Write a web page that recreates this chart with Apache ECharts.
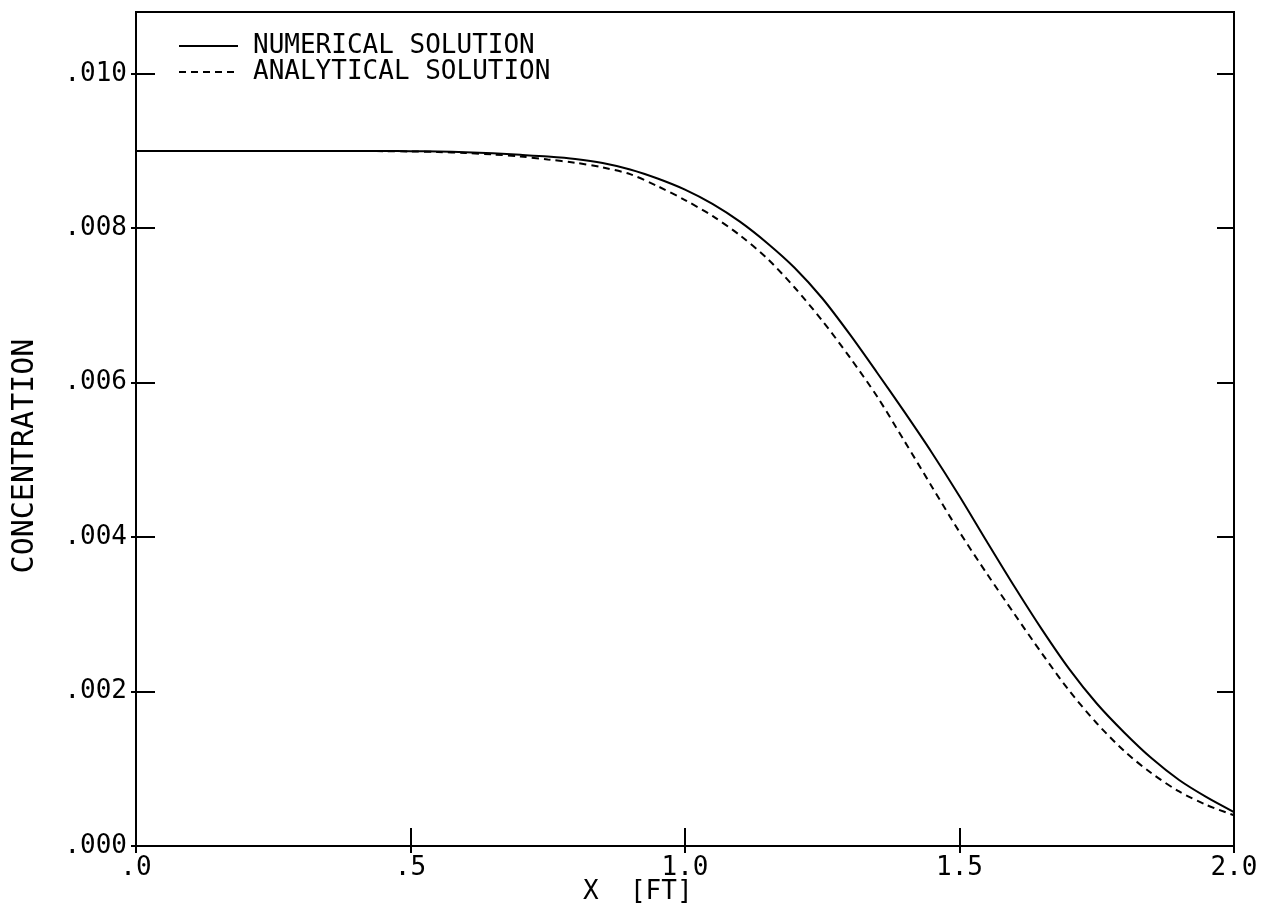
<!DOCTYPE html>
<html>
<head>
<meta charset="utf-8">
<script src="https://cdn.jsdelivr.net/npm/echarts@6/dist/echarts.min.js"></script>
<style>
  html, body { margin: 0; padding: 0; background: #fff; }
  #chart { width: 1264px; height: 909px; }
</style>
</head>
<body>
<div id="chart"></div>
<script>
// Distance along the column, ft
const xFeet = [
  0.00, 0.05, 0.10, 0.15, 0.20, 0.25, 0.30, 0.35, 0.40, 0.45,
  0.50, 0.55, 0.60, 0.65, 0.70, 0.75, 0.80, 0.85, 0.90, 0.95,
  1.00, 1.05, 1.10, 1.15, 1.20, 1.25, 1.30, 1.35, 1.40, 1.45,
  1.50, 1.55, 1.60, 1.65, 1.70, 1.75, 1.80, 1.85, 1.90, 1.95, 2.00
];

// Concentration from the numerical model
const numerical = [
  0.009000, 0.009000, 0.009000, 0.009000, 0.009000, 0.009000, 0.009000, 0.009000, 0.009000, 0.009000,
  0.008998, 0.008994, 0.008984, 0.008970, 0.008950, 0.008928, 0.008897, 0.008845, 0.008761, 0.008644,
  0.008500, 0.008315, 0.008085, 0.007806, 0.007485, 0.007093, 0.006628, 0.006129, 0.005618, 0.005090,
  0.004530, 0.003940, 0.003360, 0.002805, 0.002290, 0.001845, 0.001470, 0.001135, 0.000855, 0.000633,
  0.000440
];

// Concentration from the closed-form solution
const analytical = [
  0.009000, 0.009000, 0.009000, 0.009000, 0.009000, 0.009000, 0.009000, 0.009000, 0.009000, 0.008998,
  0.008994, 0.008987, 0.008974, 0.008955, 0.008929, 0.008890, 0.008848, 0.008787, 0.008700, 0.008545,
  0.008365, 0.008159, 0.007909, 0.007607, 0.007229, 0.006803, 0.006330, 0.005820, 0.005240, 0.004650,
  0.004066, 0.003525, 0.003005, 0.002495, 0.002010, 0.001590, 0.001230, 0.000941, 0.000706, 0.000531,
  0.000398
];

// Tick positions
const yTicks = [0, 0.002, 0.004, 0.006, 0.008, 0.010];
const xTicks = [0, 0.5, 1.0, 1.5, 2.0];

const seriesNames = ['NUMERICAL SOLUTION', 'ANALYTICAL SOLUTION'];
const xTitle = 'X  [FT]';
const yTitle = 'CONCENTRATION';

const FONT = '"DejaVu Sans Mono", "Liberation Mono", monospace';
const INK = '#000';

function pairs(ys) { return xFeet.map((x, i) => [x, ys[i]]); }

// ".000", ".002", ...
function yLabel(v) { return v.toFixed(3).replace(/^0/, ''); }
// ".0", ".5", "1.0", ...
function xLabel(v) { return v.toFixed(1).replace(/^0\./, '.'); }

const yRange = { min: 0, max: 0.0108 };
const xRange = { min: 0, max: 2 };

const chart = echarts.init(document.getElementById('chart'), null, { renderer: 'canvas' });

chart.setOption({
  backgroundColor: '#fff',
  animation: false,
  grid: {
    left: 136, right: 30, top: 12, bottom: 63,
    show: true, borderColor: INK, borderWidth: 2, backgroundColor: 'transparent'
  },
  legend: {
    orient: 'vertical',
    left: 178, top: 33, padding: 0,
    itemWidth: 59, itemHeight: 14, itemGap: 0,
    data: seriesNames,
    itemStyle: { opacity: 0 },
    textStyle: { fontFamily: FONT, fontSize: 26, color: INK, lineHeight: 26, padding: [0, 0, 0, 10] }
  },
  xAxis: [
    {
      type: 'value', position: 'bottom', ...xRange,
      axisLine: { show: true, lineStyle: { color: INK, width: 2 } },
      axisTick: { show: true, inside: true, length: 18, customValues: xTicks, lineStyle: { color: INK, width: 2 } },
      axisLabel: { show: true, margin: 9, customValues: xTicks, formatter: xLabel, fontFamily: FONT, fontSize: 26, color: INK },
      splitLine: { show: false }
    },
    {
      type: 'value', position: 'bottom', ...xRange,
      axisLine: { show: false },
      axisTick: { show: true, inside: false, length: 7, customValues: xTicks, lineStyle: { color: INK, width: 2 } },
      axisLabel: { show: false },
      splitLine: { show: false }
    }
  ],
  yAxis: [
    {
      type: 'value', position: 'left', ...yRange,
      axisLine: { show: true, lineStyle: { color: INK, width: 2 } },
      axisTick: { show: true, inside: true, length: 19, customValues: yTicks, lineStyle: { color: INK, width: 2 } },
      axisLabel: { show: true, margin: 9, customValues: yTicks, formatter: yLabel, fontFamily: FONT, fontSize: 26, color: INK },
      splitLine: { show: false }
    },
    {
      type: 'value', position: 'left', ...yRange,
      axisLine: { show: false },
      axisTick: { show: true, inside: false, length: 5, customValues: yTicks, lineStyle: { color: INK, width: 2 } },
      axisLabel: { show: false },
      splitLine: { show: false }
    },
    {
      type: 'value', position: 'right', ...yRange,
      axisLine: { show: true, lineStyle: { color: INK, width: 2 } },
      axisTick: { show: true, inside: true, length: 17, customValues: yTicks, lineStyle: { color: INK, width: 2 } },
      axisLabel: { show: false },
      splitLine: { show: false }
    }
  ],
  series: [
    {
      name: seriesNames[0], type: 'line', xAxisIndex: 0, yAxisIndex: 0,
      data: pairs(numerical),
      showSymbol: false, symbol: 'none',
      smooth: 0.3,
      lineStyle: { color: INK, width: 2, type: 'solid' },
      itemStyle: { color: INK }
    },
    {
      name: seriesNames[1], type: 'line', xAxisIndex: 0, yAxisIndex: 0,
      data: pairs(analytical),
      showSymbol: false, symbol: 'none',
      smooth: 0.3,
      lineStyle: { color: INK, width: 2, type: [7, 5] },
      itemStyle: { color: INK }
    }
  ],
  graphic: [
    {
      type: 'text', left: 583, top: 879,
      style: { text: xTitle, font: '26px ' + FONT, fill: INK }
    },
    {
      type: 'text', x: 25, y: 456, rotation: Math.PI / 2,
      style: { text: yTitle, font: '30px ' + FONT, fill: INK, align: 'center', verticalAlign: 'middle' }
    }
  ]
});
</script>
</body>
</html>
